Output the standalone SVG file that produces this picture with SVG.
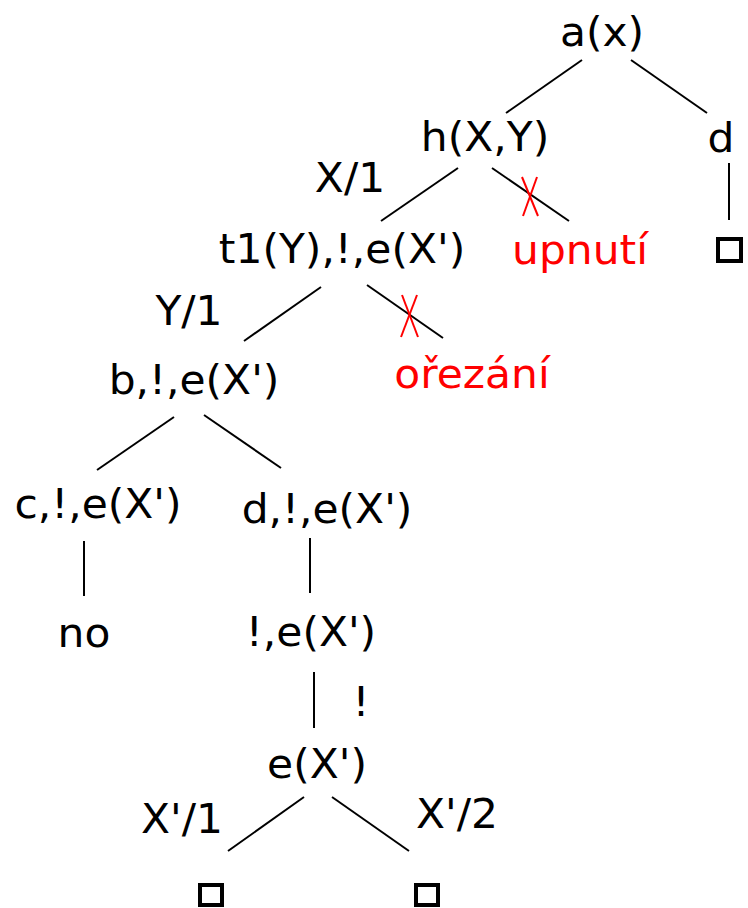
<svg xmlns="http://www.w3.org/2000/svg" width="748" height="908" viewBox="0 0 748 908">
<style>
text{font-family:"DejaVu Sans",sans-serif;font-size:40px;fill:#000;text-anchor:middle}
text.red{fill:#ff0000}
.e line{stroke:#000;stroke-width:2}
.x line{stroke:#ff0000;stroke-width:2}
rect.leaf{fill:#fff;stroke:#000;stroke-width:4}
</style>
<rect width="748" height="908" fill="#fff"/>
<g class="e" id="connectors">
<line x1="582" y1="60" x2="506" y2="113"/>
<line x1="631" y1="60" x2="707" y2="113"/>
<line x1="458" y1="168" x2="381" y2="221"/>
<line x1="492" y1="168" x2="569" y2="221"/>
<line x1="729" y1="163" x2="729" y2="220"/>
<line x1="321" y1="287" x2="244" y2="341"/>
<line x1="367" y1="285" x2="443" y2="338"/>
<line x1="174" y1="417" x2="97" y2="470"/>
<line x1="204" y1="415" x2="281" y2="468"/>
<line x1="84" y1="541" x2="84" y2="596"/>
<line x1="310" y1="538" x2="310" y2="593"/>
<line x1="314" y1="672" x2="314" y2="728"/>
<line x1="304" y1="797" x2="228" y2="851"/>
<line x1="332" y1="797" x2="409" y2="851"/>
</g>
<g class="x" id="cuts">
<line x1="522" y1="177" x2="538" y2="216"/>
<line x1="537" y1="177" x2="523" y2="216"/>
<line x1="402" y1="295" x2="418" y2="337"/>
<line x1="417" y1="295" x2="401" y2="337"/>
</g>
<g id="n-a"><text transform="translate(602,46) scale(1.06,1)">a(x)</text></g>
<g id="n-h"><text transform="translate(485,151) scale(1.06,1)">h(X,Y)</text></g>
<g id="n-d"><text transform="translate(721,152) scale(1.06,1)">d</text></g>
<g id="l-x1"><text transform="translate(350,192) scale(1.06,1)">X/1</text></g>
<g id="n-t1"><text transform="translate(342,263) scale(1.06,1)">t1(Y),!,e(X')</text></g>
<g id="n-upnuti"><text class="red" transform="translate(580,264) scale(1.06,1)">upnutí</text></g>
<g id="n-sq1"><rect class="leaf" x="718" y="239" width="23" height="22"/></g>
<g id="l-y1"><text transform="translate(189,325) scale(1.06,1)">Y/1</text></g>
<g id="n-b"><text transform="translate(194,394) scale(1.06,1)">b,!,e(X')</text></g>
<g id="n-orezani"><text class="red" transform="translate(472,388) scale(1.06,1)">ořezání</text></g>
<g id="n-c"><text transform="translate(98,518) scale(1.06,1)">c,!,e(X')</text></g>
<g id="n-d2"><text transform="translate(327,523) scale(1.06,1)">d,!,e(X')</text></g>
<g id="n-no"><text transform="translate(84,647) scale(1.06,1)">no</text></g>
<g id="n-cut"><text transform="translate(311,646) scale(1.06,1)">!,e(X')</text></g>
<g id="l-cut"><text transform="translate(361,716) scale(1.06,1)">!</text></g>
<g id="n-e"><text transform="translate(317,778) scale(1.06,1)">e(X')</text></g>
<g id="l-x1b"><text transform="translate(182,833) scale(1.06,1)">X'/1</text></g>
<g id="l-x2b"><text transform="translate(457,828) scale(1.06,1)">X'/2</text></g>
<g id="n-sq2"><rect class="leaf" x="200" y="885" width="22" height="20"/></g>
<g id="n-sq3"><rect class="leaf" x="416" y="885" width="22" height="20"/></g>
</svg>
